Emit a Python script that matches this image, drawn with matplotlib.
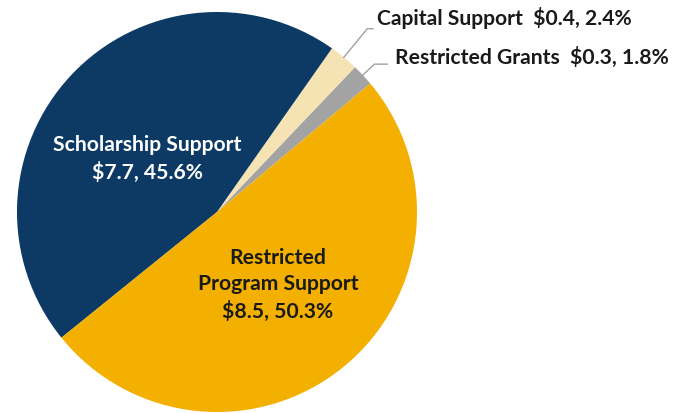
import numpy as np
import matplotlib
matplotlib.use("Agg")
import matplotlib.pyplot as plt

categories = ["Restricted Grants", "Capital Support", "Scholarship Support", "Restricted Program Support"]
values = [0.3, 0.4, 7.7, 8.5]
percents = [1.8, 2.4, 45.6, 50.3]
colors = ["#a3a3a3", "#f5e3b3", "#0c3a64", "#f3b000"]

W, H = 674, 414
fig = plt.figure(figsize=(W / 100, H / 100), dpi=100)
ax = fig.add_axes([0, 0, 1, 1])

cx, cy, R = 217, H - 213, 200
wedges, _ = ax.pie(values, colors=colors, startangle=40, counterclock=True,
                   center=(cx, cy), radius=R, frame=True,
                   wedgeprops=dict(linewidth=0))
ax.set_xlim(0, W)
ax.set_ylim(0, H)
ax.set_aspect("equal")
ax.axis("off")

font = "Lato"
fs = 15.2
dark = "#1a1a1a"

# inside labels
ax.text(147, H - 159, f"{categories[2]}\n${values[2]}, {percents[2]}%", ha="center", va="center",
        color="white", fontsize=fs, fontweight="bold", family=font, linespacing=1.42)
ax.text(278, H - 285, f"Restricted\nProgram Support\n${values[3]}, {percents[3]}%", ha="center", va="center",
        color=dark, fontsize=fs, fontweight="bold", family=font, linespacing=1.42)

# outside labels with leader lines
def leader(i, r_elbow, x_end, text, x_text, y_text):
    w = wedges[i]
    mid = np.deg2rad((w.theta1 + w.theta2) / 2)
    p0 = (cx + R * np.cos(mid), cy + R * np.sin(mid))
    p1 = (cx + R * r_elbow * np.cos(mid), cy + R * r_elbow * np.sin(mid))
    ax.plot([p0[0], p1[0], x_end], [p0[1], p1[1], p1[1]], color="#a0a0a0", lw=1.0)
    ax.text(x_text, y_text, text, ha="left", va="center", color=dark,
            fontsize=fs, fontweight="bold", family=font)

leader(1, 1.185, 373, f"{categories[1]}  ${values[1]}, {percents[1]}%", 377, H - 18)
leader(0, 1.08, 387, f"{categories[0]}  ${values[0]}, {percents[0]}%", 395, H - 57)

fig.savefig("out.png", dpi=100)
